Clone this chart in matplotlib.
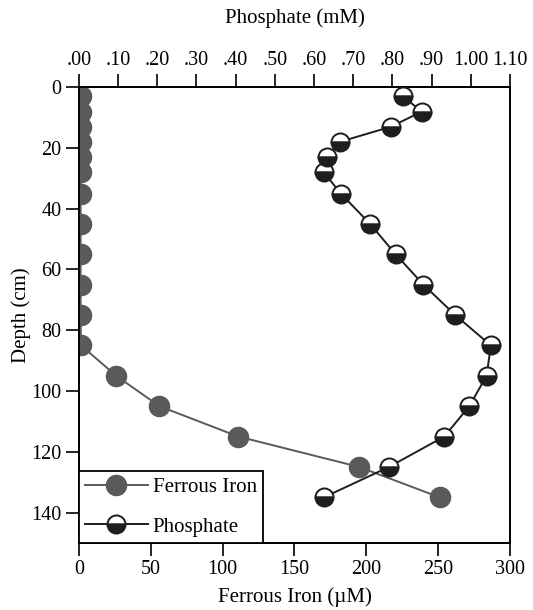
import matplotlib
matplotlib.use("Agg")
import matplotlib.pyplot as plt

# Sediment porewater profiles
depth = [3, 8, 13, 18, 23, 28, 35, 45, 55, 65, 75, 85, 95, 105, 115, 125, 135]
ferrous_iron = [1.2, 1.2, 1.2, 1.2, 1.2, 1.2, 1.2, 1.2, 1.2, 1.2, 1.2, 1.5,
                26, 56, 111, 195, 251]
phosphate = [0.826, 0.875, 0.796, 0.665, 0.632, 0.625, 0.668, 0.743, 0.808,
             0.879, 0.960, 1.051, 1.040, 0.996, 0.932, 0.791, 0.625]

fe_ticks = [0, 50, 100, 150, 200, 250, 300]
p_ticks = [0.0, 0.1, 0.2, 0.3, 0.4, 0.5, 0.6, 0.7, 0.8, 0.9, 1.0, 1.1]
p_ticklabels = [".00", ".10", ".20", ".30", ".40", ".50", ".60", ".70",
                ".80", ".90", "1.00", "1.10"]
depth_ticks = [0, 20, 40, 60, 80, 100, 120, 140]

plt.rcParams["font.family"] = ["Liberation Serif", "DejaVu Serif"]

fig = plt.figure(figsize=(5.33, 6.10), dpi=100)
ax = fig.add_axes([0.148, 0.110, 0.809, 0.747])

grey = "#5a5a5a"
dark = "#1e1e1e"

fe_line, = ax.plot(ferrous_iron, depth, color=grey, lw=1.4, marker="o",
                   markersize=14.5, markerfacecolor=grey, markeredgecolor=grey,
                   label="Ferrous Iron", zorder=3)
ax.set_xlim(0, 300)
ax.set_ylim(150, 0)
ax.set_xticks(fe_ticks)
ax.set_yticks(depth_ticks)
ax.set_xlabel("Ferrous Iron (\u00b5M)", fontsize=15, labelpad=6)
ax.set_ylabel("Depth (cm)", fontsize=15, labelpad=0)
ax.tick_params(axis="both", direction="out", length=9.5, width=1.2,
               labelsize=14.5, color="black", pad=3)

ax2 = ax.twiny()
p_line, = ax2.plot(phosphate, depth, color=dark, lw=1.4, marker="o",
                   markersize=13, fillstyle="top", markerfacecolor="white",
                   markerfacecoloralt=dark, markeredgecolor=dark,
                   markeredgewidth=1.4, label="Phosphate", zorder=4)
ax2.set_xlim(0, 1.1)
ax2.set_xticks(p_ticks)
ax2.set_xticklabels(p_ticklabels)
ax2.set_xlabel("Phosphate (mM)", fontsize=15, labelpad=20)
ax2.tick_params(axis="x", direction="out", length=9.5, width=1.2,
                labelsize=14.5, pad=3)

for a in (ax, ax2):
    for s in a.spines.values():
        s.set_linewidth(1.3)
        s.set_color("black")

leg = ax2.legend(handles=[fe_line, p_line], loc="lower left",
                 borderaxespad=0, fancybox=False, framealpha=1,
                 edgecolor="black", fontsize=15, handlelength=3.0,
                 handletextpad=0.25, borderpad=0.3, labelspacing=0.95)
leg.get_frame().set_linewidth(1.3)

fig.savefig("out.png", dpi=100)
